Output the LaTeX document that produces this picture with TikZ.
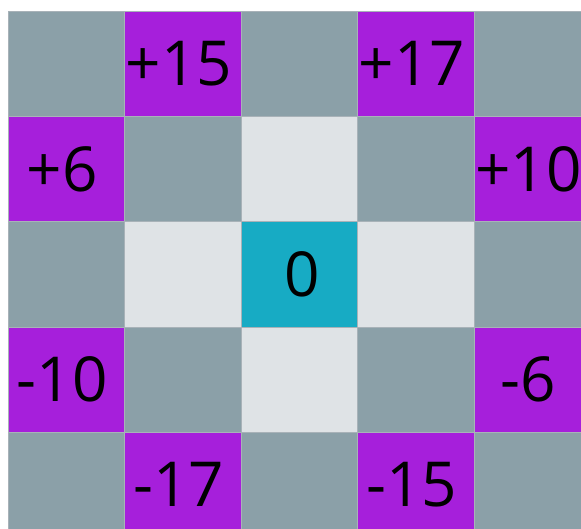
\documentclass[tikz,border=0pt]{standalone}
\usepackage{fontspec}
\setmainfont{Open Sans}
\usepackage{tikz}
\usetikzlibrary{positioning}
\definecolor{slate}   {RGB}{139,160,168}
\definecolor{violet}  {RGB}{166, 31,219}
\definecolor{pale}    {RGB}{223,227,230}
\definecolor{teal}    {RGB}{ 23,171,196}
\definecolor{seam}    {RGB}{168,178,184}

\begin{document}
\begin{tikzpicture}[x=1pt, y=-1pt,
  cell/.style={draw=seam, line width=0.7pt, minimum width=116.5pt, minimum height=105.3pt, inner sep=0pt, font=\fontsize{62}{62}\selectfont},
  far/.style={cell, fill=slate},
  jump/.style={cell, fill=violet, execute at begin node={\hspace*{-8pt}}},
  near/.style={cell, fill=pale},
  home/.style={cell, fill=teal, execute at begin node={\hspace*{6pt}}}
]
  \useasboundingbox[fill=white] (0,0) rectangle (581,529);

  % Row 1
  \node[far]  (c11) at (66.25,63.65)  {};
  \node[jump] (c12) at (182.75,63.65) {+15};
  \node[far]  (c13) at (299.25,63.65) {};
  \node[jump] (c14) at (415.75,63.65) {+17};
  \node[far]  (c15) at (532.25,63.65) {};

  % Row 2
  \node[jump] (c21) at (66.25,168.95)  {+6};
  \node[far]  (c22) at (182.75,168.95) {};
  \node[near] (c23) at (299.25,168.95) {};
  \node[far]  (c24) at (415.75,168.95) {};
  \node[jump] (c25) at (532.25,168.95) {+10};

  % Row 3
  \node[far]  (c31) at (66.25,274.25)  {};
  \node[near] (c32) at (182.75,274.25) {};
  \node[home] (c33) at (299.25,274.25) {0};
  \node[near] (c34) at (415.75,274.25) {};
  \node[far]  (c35) at (532.25,274.25) {};

  % Row 4
  \node[jump] (c41) at (66.25,379.55)  {-10};
  \node[far]  (c42) at (182.75,379.55) {};
  \node[near] (c43) at (299.25,379.55) {};
  \node[far]  (c44) at (415.75,379.55) {};
  \node[jump] (c45) at (532.25,379.55) {-6};

  % Row 5
  \node[far]  (c51) at (66.25,484.85)  {};
  \node[jump] (c52) at (182.75,484.85) {-17};
  \node[far]  (c53) at (299.25,484.85) {};
  \node[jump] (c54) at (415.75,484.85) {-15};
  \node[far]  (c55) at (532.25,484.85) {};
\end{tikzpicture}
\end{document}
